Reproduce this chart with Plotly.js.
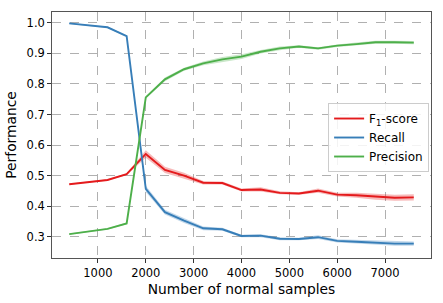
<!DOCTYPE html>
<html>
<head>
<meta charset="utf-8">
<script src="https://cdn.plot.ly/plotly-3.0.1.min.js"></script>
<style>html,body{margin:0;padding:0;background:#fff;}#chart{width:443px;height:303px;}</style>
</head>
<body>
<div id="chart"></div>
<script>
const samples = [400, 800, 1200, 1600, 2000, 2400, 2800, 3200, 3600, 4000, 4400, 4800, 5200, 5600, 6000, 6400, 6800, 7200, 7600];
const f1 = [0.472, 0.478, 0.486, 0.505, 0.571, 0.519, 0.500, 0.477, 0.476, 0.453, 0.455, 0.444, 0.442, 0.451, 0.438, 0.436, 0.431, 0.428, 0.429];
const f1Err = [0.002, 0.002, 0.002, 0.003, 0.012, 0.010, 0.010, 0.006, 0.005, 0.005, 0.007, 0.005, 0.004, 0.007, 0.006, 0.008, 0.010, 0.010, 0.010];
const recall = [0.998, 0.992, 0.985, 0.956, 0.457, 0.381, 0.353, 0.328, 0.325, 0.303, 0.304, 0.294, 0.293, 0.299, 0.287, 0.284, 0.281, 0.278, 0.278];
const recallErr = [0.002, 0.002, 0.002, 0.003, 0.010, 0.008, 0.008, 0.006, 0.005, 0.004, 0.005, 0.005, 0.004, 0.006, 0.005, 0.006, 0.007, 0.007, 0.007];
const precision = [0.309, 0.317, 0.326, 0.344, 0.756, 0.815, 0.848, 0.867, 0.880, 0.889, 0.905, 0.916, 0.922, 0.916, 0.925, 0.930, 0.936, 0.936, 0.935];
const precisionErr = [0.002, 0.002, 0.002, 0.003, 0.004, 0.006, 0.005, 0.006, 0.008, 0.008, 0.006, 0.006, 0.004, 0.004, 0.004, 0.005, 0.005, 0.005, 0.005];
const seriesNames = ['F<sub>1</sub>-score', 'Recall', 'Precision'];
const xTicks = [1000, 2000, 3000, 4000, 5000, 6000, 7000];
const yTicks = [0.3, 0.4, 0.5, 0.6, 0.7, 0.8, 0.9, 1.0];

const series = [
  {name: seriesNames[0], y: f1, err: f1Err, color: '#e41a1c', fill: 'rgba(228,26,28,0.3)'},
  {name: seriesNames[1], y: recall, err: recallErr, color: '#377eb8', fill: 'rgba(55,126,184,0.3)'},
  {name: seriesNames[2], y: precision, err: precisionErr, color: '#4daf4a', fill: 'rgba(77,175,74,0.3)'}
];

const traces = [];
series.forEach(s => {
  traces.push({x: samples, y: s.y.map((v, i) => v + s.err[i]), mode: 'lines', line: {width: 0, color: s.color}, showlegend: false, hoverinfo: 'skip'});
  traces.push({x: samples, y: s.y.map((v, i) => v - s.err[i]), mode: 'lines', line: {width: 0, color: s.color}, fill: 'tonexty', fillcolor: s.fill, showlegend: false, hoverinfo: 'skip'});
});
series.forEach(s => {
  traces.push({x: samples, y: s.y, mode: 'lines', name: s.name, line: {width: 1.9, color: s.color}});
});

const layout = {
  width: 443, height: 303,
  margin: {l: 52, r: 12, t: 12, b: 45},
  paper_bgcolor: '#fff', plot_bgcolor: '#fff',
  font: {family: 'DejaVu Sans', size: 11, color: '#000'},
  showlegend: true,
  hovermode: false,
  xaxis: {
    range: [40, 7960], tickvals: xTicks, ticktext: xTicks.map(String),
    showgrid: true, gridcolor: '#b0b0b0', griddash: 'dash', gridwidth: 1,
    zeroline: false, showline: true, mirror: true, linecolor: '#555', linewidth: 1.3,
    ticks: 'outside', ticklen: 3.5, tickcolor: '#333', tickwidth: 1,
    tickfont: {family: 'DejaVu Sans', size: 11.5, color: '#000'},
    title: {text: 'Number of normal samples', font: {family: 'DejaVu Sans', size: 13.8, color: '#000'}, standoff: 5}
  },
  yaxis: {
    range: [0.231, 1.035], tickvals: yTicks, ticktext: yTicks.map(v => v.toFixed(1)),
    showgrid: true, gridcolor: '#b0b0b0', griddash: 'dash', gridwidth: 1,
    zeroline: false, showline: true, mirror: true, linecolor: '#555', linewidth: 1.3,
    ticks: 'outside', ticklen: 3.5, tickcolor: '#333', tickwidth: 1,
    tickfont: {family: 'DejaVu Sans', size: 11.5, color: '#000'},
    title: {text: 'Performance', font: {family: 'DejaVu Sans', size: 13.8, color: '#000'}, standoff: 6}
  },
  legend: {
    x: 0.995, xanchor: 'right', y: 0.63, yanchor: 'top',
    traceorder: 'normal',
    bgcolor: 'rgba(255,255,255,0.85)', bordercolor: '#ccc', borderwidth: 1,
    font: {family: 'DejaVu Sans', size: 12, color: '#000'},
    itemwidth: 30, tracegroupgap: 0
  }
};

Plotly.newPlot('chart', traces, layout, {displayModeBar: false, staticPlot: true});
</script>
</body>
</html>
